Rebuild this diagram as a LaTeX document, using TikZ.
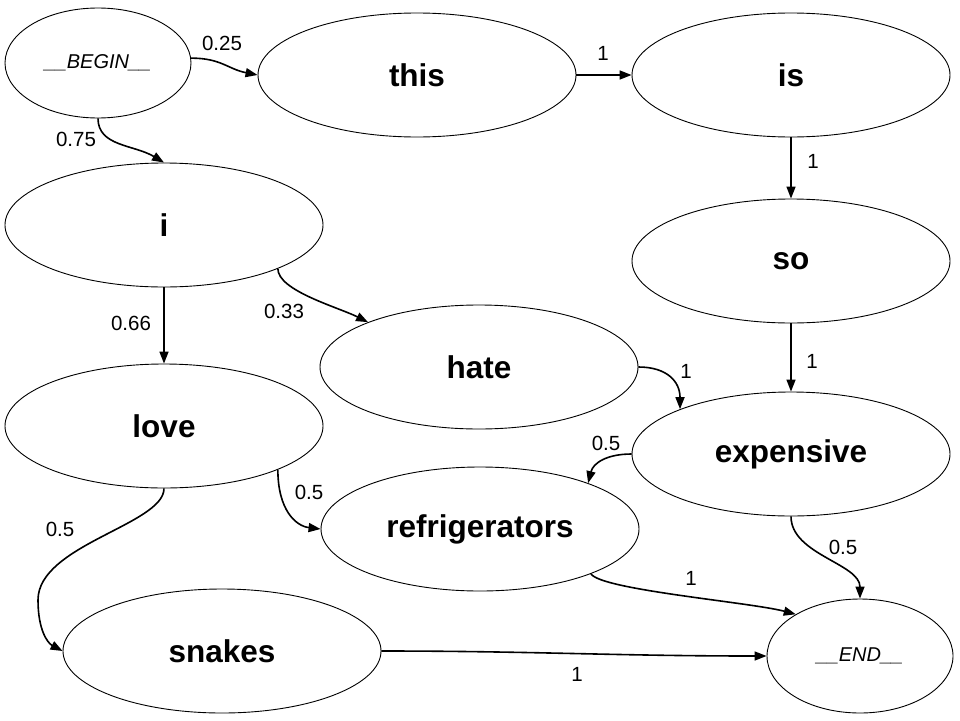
\documentclass[tikz,border=0pt]{standalone}
\usepackage{fontspec}
\setmainfont{Liberation Sans}
\usetikzlibrary{shapes.geometric,arrows.meta}
\begin{document}
\begin{tikzpicture}[x=1pt,y=-1pt,
  word/.style={ellipse,draw,line width=0.9pt,minimum width=318pt,minimum height=124pt,inner sep=0pt,font=\fontsize{31.5}{36}\selectfont\bfseries},
  term/.style={ellipse,draw,line width=0.9pt,minimum width=186pt,inner sep=0pt,font=\fontsize{20}{24}\selectfont\itshape},
  edge/.style={line width=1.6pt,-{Triangle[length=12pt,width=9pt]}},
  lbl/.style={font=\fontsize{20.5}{24}\selectfont,inner sep=0pt}]
\fill[white] (0,0) rectangle (960,720);
\useasboundingbox (0,0) rectangle (960,720);
% nodes
\node[term,minimum height=110pt] (begin) at (98,63) {\_\_BEGIN\_\_};
\node[word] (this) at (417,75) {this};
\node[word] (is) at (791,75) {is};
\node[word] (i) at (164,225) {i};
\node[word] (so) at (791,261) {so};
\node[word] (hate) at (479,367) {hate};
\node[word] (love) at (164,426) {love};
\node[word] (expensive) at (791,454) {expensive};
\node[word] (refr) at (480,529) {refrigerators};
\node[word] (snakes) at (222,651) {snakes};
\node[term,minimum height=114pt] (end) at (860,656) {\_\_END\_\_};
% edges
\draw[edge] (begin.3) .. controls +(30,0) and +(-30,-6) .. (this.west);
\draw[edge] (begin.south) .. controls +(0,28) and +(-30,-18) .. (i.north);
\draw[edge] (this.east) -- (is.west);
\draw[edge] (is.south) -- (so.north);
\draw[edge] (i.south) -- (love.north);
\draw[edge] (i.-21) .. controls +(0,22) and +(-30,-15) .. (hate.158);
\draw[edge] (so.south) -- (expensive.north);
\draw[edge] (hate.east) .. controls +(28,0) and +(0,-28) .. (expensive.158);
\draw[edge] (expensive.west) .. controls +(-25,0) and +(5,-20) .. (refr.23);
\draw[edge] (love.-21) .. controls +(0,40) and +(-25,-3) .. (refr.west);
\coordinate (bend) at (38,600);
\draw[edge] (love.south) .. controls +(0,36) and +(0,-55) .. (bend) .. controls +(0,30) and +(-15,-8) .. (snakes.west);
\draw[edge] (refr.-22) .. controls +(10,16) and +(-45,-12) .. (end.147);
\draw[edge] (expensive.south) .. controls +(0,38) and +(0,-35) .. (end.north);
\draw[edge] (snakes.east) .. controls +(150,0) and +(-150,0) .. (end.west);
% labels
\node[lbl] (l1) at (222,43) {0.25};
\node[lbl] (l2) at (76,139) {0.75};
\node[lbl] (l3) at (603,53) {1};
\node[lbl] (l4) at (813,161) {1};
\node[lbl] (l5) at (131,323) {0.66};
\node[lbl] (l6) at (284,311) {0.33};
\node[lbl] (l7) at (686,371) {1};
\node[lbl] (l8) at (812,361) {1};
\node[lbl] (l9) at (606,443) {0.5};
\node[lbl] (l10) at (843,547) {0.5};
\node[lbl] (l11) at (691,578) {1};
\node[lbl] (l12) at (577,674) {1};
\node[lbl] (l13) at (309,492) {0.5};
\node[lbl] (l14) at (60,529) {0.5};
\end{tikzpicture}
\end{document}
